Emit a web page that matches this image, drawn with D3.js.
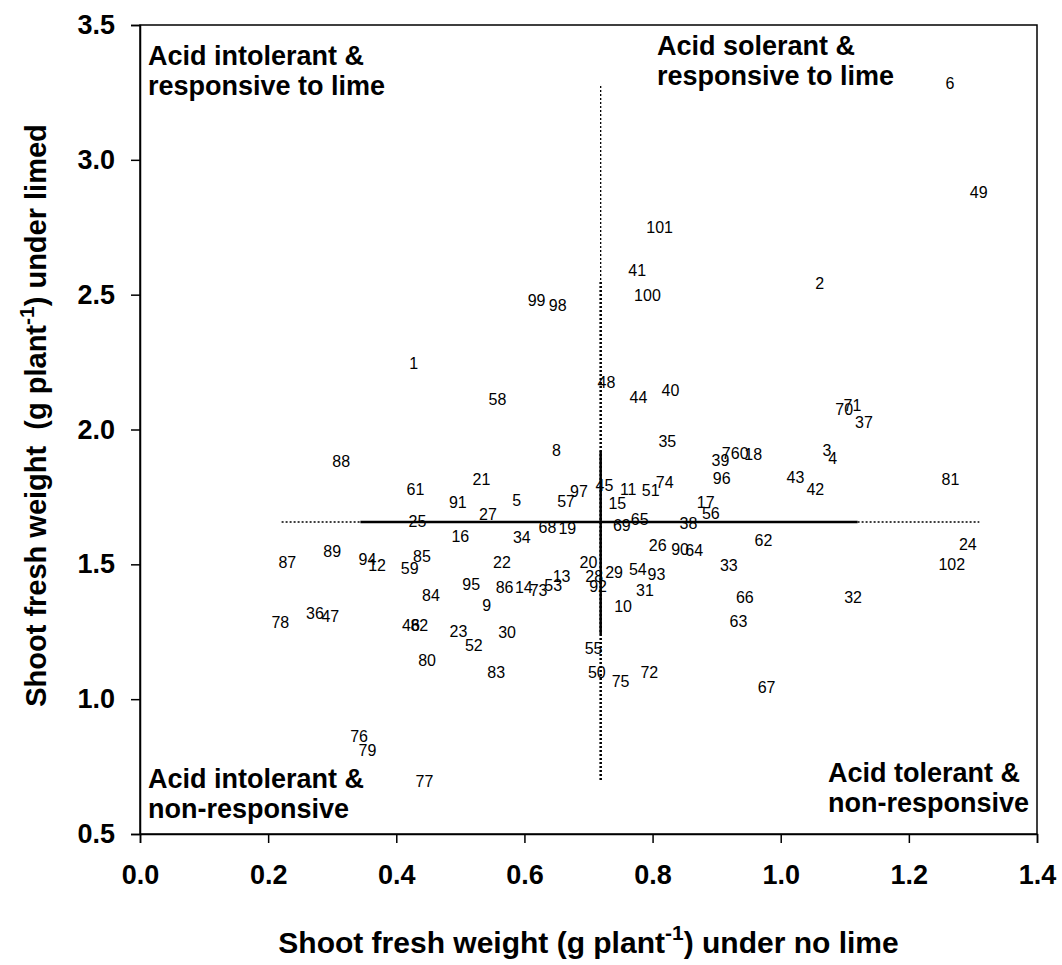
<!DOCTYPE html>
<html>
<head>
<meta charset="utf-8">
<script src="https://cdn.jsdelivr.net/npm/d3@7"></script>
<style>
  body { margin: 0; background: #fff; }
  svg { display: block; font-family: Arial, "Liberation Sans", sans-serif; }
  .tick text { font-weight: bold; }
  .pt { font-size: 16px; fill: #000; }
  .quad { font-size: 27px; font-weight: bold; }
  .axis-title { font-weight: bold; }
</style>
</head>
<body>
<svg width="1062" height="965"></svg>
<script>
"use strict";

// genotype number, shoot fresh weight under no lime (x) and under lime (y)
const ids = d3.range(1, 103);
const noLime = [
  0.427, 1.061, 1.072, 1.081, 0.588, 1.264, 0.915, 0.650, 0.541, 0.754,
  0.762, 0.370, 0.658, 0.599, 0.745, 0.500, 0.883, 0.957, 0.667, 0.700,
  0.533, 0.565, 0.497, 1.292, 0.433, 0.808, 0.543, 0.709, 0.740, 0.573,
  0.788, 1.113, 0.919, 0.596, 0.823, 0.273, 1.130, 0.856, 0.906, 0.828,
  0.776, 1.054, 1.023, 0.778, 0.725, 0.423, 0.297, 0.728, 1.309, 0.713,
  0.797, 0.521, 0.645, 0.777, 0.708, 0.891, 0.665, 0.558, 0.421, 0.936,
  0.430, 0.973, 0.934, 0.865, 0.780, 0.944, 0.978, 0.636, 0.752, 1.099,
  1.112, 0.795, 0.622, 0.819, 0.750, 0.342, 0.444, 0.219, 0.355, 0.448,
  1.265, 0.436, 0.556, 0.454, 0.440, 0.569, 0.230, 0.314, 0.300, 0.843,
  0.496, 0.715, 0.806, 0.355, 0.517, 0.908, 0.685, 0.652, 0.619, 0.792,
  0.811, 1.267
];
const limed = [
  2.247, 2.543, 1.923, 1.893, 1.737, 3.285, 1.911, 1.923, 1.349, 1.343,
  1.778, 1.497, 1.454, 1.414, 1.726, 1.605, 1.732, 1.907, 1.632, 1.506,
  1.817, 1.506, 1.252, 1.574, 1.659, 1.570, 1.684, 1.457, 1.469, 1.248,
  1.404, 1.377, 1.496, 1.599, 1.956, 1.319, 2.027, 1.654, 1.886, 2.146,
  2.589, 1.778, 1.823, 2.120, 1.793, 1.274, 1.307, 2.177, 2.878, 1.100,
  1.774, 1.200, 1.422, 1.481, 1.189, 1.691, 1.733, 2.114, 1.484, 1.911,
  1.780, 1.590, 1.290, 1.552, 1.667, 1.377, 1.044, 1.637, 1.644, 2.074,
  2.089, 1.100, 1.405, 1.803, 1.067, 0.864, 0.697, 1.287, 0.812, 1.144,
  1.817, 1.274, 1.099, 1.385, 1.529, 1.414, 1.506, 1.883, 1.549, 1.556,
  1.729, 1.420, 1.463, 1.519, 1.426, 1.821, 1.771, 2.459, 2.478, 2.497,
  2.751, 1.500
];

// centre lines: means, spread (solid) and full range (dotted)
const meanX = 0.719;
const meanY = 1.657;
const sdRangeX = [0.344, 1.12];
const fullRangeX = [0.221, 1.31];
const sdRangeY = [1.24, 1.92];
const fullRangeY = [0.70, 3.28];

const xTicks = [0.0, 0.2, 0.4, 0.6, 0.8, 1.0, 1.2, 1.4];
const yTicks = [0.5, 1.0, 1.5, 2.0, 2.5, 3.0, 3.5];

const quadrants = [
  { lines: ["Acid intolerant &", "responsive to lime"], x: 148, y: 65 },
  { lines: ["Acid solerant &", "responsive to lime"], x: 657, y: 55 },
  { lines: ["Acid intolerant &", "non-responsive"], x: 148, y: 788 },
  { lines: ["Acid tolerant &", "non-responsive"], x: 828, y: 782 }
];

const svg = d3.select("svg");
const width = +svg.attr("width");
const height = +svg.attr("height");
const margin = { top: 25, right: 25, bottom: 131, left: 140 };
const innerWidth = width - margin.left - margin.right;
const innerHeight = height - margin.top - margin.bottom;

const data = ids.map((id, i) => ({ id, x: noLime[i], y: limed[i] }));

const xScale = d3.scaleLinear().domain([0, 1.4]).range([0, innerWidth]);
const yScale = d3.scaleLinear().domain([0.5, 3.5]).range([innerHeight, 0]);

const g = svg.append("g")
  .attr("transform", `translate(${margin.left},${margin.top})`);

// frame
g.append("rect")
  .attr("width", innerWidth)
  .attr("height", innerHeight)
  .attr("fill", "none")
  .attr("stroke", "#000")
  .attr("stroke-width", 1.5);

const xAxis = d3.axisBottom(xScale)
  .tickValues(xTicks)
  .tickSize(9)
  .tickPadding(22)
  .tickFormat(d3.format(".1f"));

const yAxis = d3.axisLeft(yScale)
  .tickValues(yTicks)
  .tickSize(9)
  .tickPadding(16)
  .tickFormat(d3.format(".1f"));

const xAxisG = g.append("g")
  .attr("transform", `translate(0,${innerHeight})`)
  .call(xAxis);

const yAxisG = g.append("g").call(yAxis);

[xAxisG, yAxisG].forEach(a => {
  a.select(".domain").attr("stroke-width", 1.5);
  a.selectAll(".tick line").attr("stroke-width", 1.5);
  a.selectAll(".tick text").attr("font-size", 27).attr("fill", "#000");
});

// reference cross
g.append("line")
  .attr("x1", xScale(fullRangeX[0])).attr("x2", xScale(fullRangeX[1]))
  .attr("y1", yScale(meanY)).attr("y2", yScale(meanY))
  .attr("stroke", "#000").attr("stroke-width", 1.3)
  .attr("stroke-dasharray", "2,2");

g.append("line")
  .attr("x1", xScale(sdRangeX[0])).attr("x2", xScale(sdRangeX[1]))
  .attr("y1", yScale(meanY)).attr("y2", yScale(meanY))
  .attr("stroke", "#000").attr("stroke-width", 2.5);

g.append("line")
  .attr("x1", xScale(meanX)).attr("x2", xScale(meanX))
  .attr("y1", yScale(fullRangeY[0])).attr("y2", yScale(fullRangeY[1]))
  .attr("stroke", "#000").attr("stroke-width", 1.3)
  .attr("stroke-dasharray", "2,2");

g.append("line")
  .attr("x1", xScale(meanX)).attr("x2", xScale(meanX))
  .attr("y1", yScale(fullRangeY[0])).attr("y2", yScale(2.55))
  .attr("stroke", "#000").attr("stroke-width", 2.5)
  .attr("stroke-dasharray", "2,2");

g.append("line")
  .attr("x1", xScale(meanX)).attr("x2", xScale(meanX))
  .attr("y1", yScale(sdRangeY[0])).attr("y2", yScale(sdRangeY[1]))
  .attr("stroke", "#000").attr("stroke-width", 2.5);

// genotype labels (no markers)
g.selectAll("text.pt")
  .data(data)
  .enter()
  .append("text")
  .attr("class", "pt")
  .attr("x", d => xScale(d.x))
  .attr("y", d => yScale(d.y))
  .attr("text-anchor", "middle")
  .attr("dy", "0.36em")
  .text(d => d.id);

// quadrant notes
quadrants.forEach(q => {
  const t = svg.append("text")
    .attr("class", "quad")
    .attr("x", q.x)
    .attr("y", q.y);
  q.lines.forEach((line, i) => {
    t.append("tspan")
      .attr("x", q.x)
      .attr("dy", i === 0 ? 0 : 30)
      .text(line);
  });
});

// axis titles
const xTitle = svg.append("text")
  .attr("class", "axis-title")
  .attr("font-size", 30)
  .attr("x", margin.left + innerWidth / 2)
  .attr("y", 953)
  .attr("text-anchor", "middle");
xTitle.append("tspan").text("Shoot fresh weight (g plant");
xTitle.append("tspan").attr("dy", -13).attr("font-size", 21).text("-1");
xTitle.append("tspan").attr("dy", 13).text(") under no lime");

const yTitle = svg.append("text")
  .attr("class", "axis-title")
  .attr("font-size", 29)
  .attr("transform", `translate(46,${margin.top + innerHeight / 2 - 14}) rotate(-90)`)
  .attr("text-anchor", "middle")
  .attr("xml:space", "preserve");
yTitle.append("tspan").text("Shoot fresh weight  (g plant");
yTitle.append("tspan").attr("dy", -12).attr("font-size", 21).text("-1");
yTitle.append("tspan").attr("dy", 12).text(") under limed");
</script>
</body>
</html>
